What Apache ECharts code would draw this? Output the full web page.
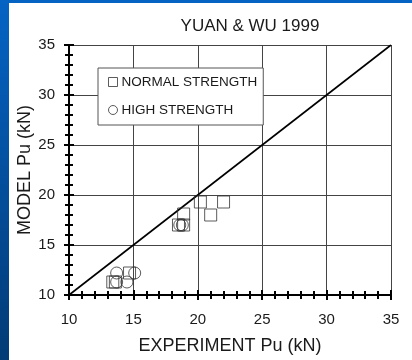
<!DOCTYPE html>
<html>
<head>
<meta charset="utf-8">
<script src="https://cdn.jsdelivr.net/npm/echarts@6/dist/echarts.min.js"></script>
<style>
  html, body { margin: 0; padding: 0; background: #fff; }
  #chart { width: 412px; height: 360px; }
</style>
</head>
<body>
<div id="chart"></div>
<script>
// Beam capacity comparison: model prediction vs. test result
const chartTitle = 'YUAN & WU 1999';
const seriesNames = ['NORMAL STRENGTH', 'HIGH STRENGTH'];
const axisTicks = [10, 15, 20, 25, 30, 35];

// [experiment Pu, model Pu] in kN
const normalStrength = [
  [20.2, 19.3], [22.0, 19.3], [21.0, 18.0], [18.9, 18.1],
  [18.5, 17.0], [18.9, 17.0],
  [13.4, 11.3], [13.6, 11.3], [14.7, 12.2]
];
const highStrength = [
  [18.6, 17.0], [18.8, 17.0],
  [13.7, 12.2], [15.1, 12.2],
  [13.7, 11.3], [14.5, 11.3]
];
const equalityLine = [[10, 10], [35, 35]];

const font = 'Liberation Sans, Arial, sans-serif';
const ink = '#1a1a1a';
const axisMin = axisTicks[0];
const axisMax = axisTicks[axisTicks.length - 1];
const step = axisTicks[1] - axisTicks[0];

function mainAxis(name, isX) {
  return {
    type: 'value', min: axisMin, max: axisMax, interval: step,
    name: name, nameLocation: 'middle',
    nameGap: isX ? 42 : 35,
    nameMoveOverlap: false,
    nameTextStyle: { fontFamily: font, fontSize: 18, color: ink },
    axisLine: { onZero: false, lineStyle: { color: '#000', width: 2 } },
    axisTick: { show: true, inside: false, length: 5, lineStyle: { color: '#000', width: 2 } },
    minorTick: { show: true, splitNumber: 5, length: 4, lineStyle: { color: '#000', width: 2 } },
    axisLabel: { fontFamily: font, fontSize: 15, color: ink, margin: isX ? 17 : 14 },
    splitLine: { show: true, lineStyle: { color: '#444', width: 1 } }
  };
}
function innerTicks(isX) {
  return {
    type: 'value', min: axisMin, max: axisMax, interval: step,
    position: isX ? 'bottom' : 'left', offset: 0,
    axisLine: { show: false, onZero: false },
    axisTick: { show: true, inside: true, length: 5, lineStyle: { color: '#000', width: 2 } },
    minorTick: { show: true, splitNumber: 5, length: 4, lineStyle: { color: '#000', width: 2 } },
    axisLabel: { show: false },
    splitLine: { show: false }
  };
}

const chart = echarts.init(document.getElementById('chart'), null, { renderer: 'canvas' });
chart.setOption({
  animation: false,
  backgroundColor: '#fff',
  title: {
    text: chartTitle, left: 245, top: 13, textAlign: 'center',
    textStyle: { fontFamily: font, fontSize: 17, fontWeight: 'normal', color: ink }
  },
  grid: { left: 69, right: 21, top: 45, bottom: 64 },
  xAxis: [
    Object.assign(mainAxis('EXPERIMENT Pu (kN)', true), { position: 'bottom' }),
    innerTicks(true)
  ],
  yAxis: [
    Object.assign(mainAxis('MODEL Pu (kN)', false), { position: 'left' }),
    innerTicks(false)
  ],
  legend: {
    data: seriesNames,
    orient: 'vertical',
    left: 98, top: 68,
    padding: [7, 6, 8, 10],
    itemGap: 14,
    itemWidth: 9, itemHeight: 9,
    itemStyle: { borderWidth: 1 },
    backgroundColor: '#fff',
    borderColor: '#555', borderWidth: 1,
    textStyle: { fontFamily: font, fontSize: 13.5, color: ink, padding: [0, 0, 0, -1] }
  },
  graphic: [
    {
      type: 'rect', left: 0, top: 0, z: 100,
      shape: { width: 9, height: 360 },
      style: { fill: new echarts.graphic.LinearGradient(0, 0, 0, 1, [
        { offset: 0, color: '#0563c4' }, { offset: 1, color: '#023b76' }
      ]) }
    },
    {
      type: 'rect', left: 0, top: 0, z: 100,
      shape: { width: 412, height: 3 },
      style: { fill: '#0563c4' }
    }
  ],
  series: [
    {
      name: 'line', type: 'line', data: equalityLine,
      showSymbol: false, symbol: 'none', silent: true,
      lineStyle: { color: '#000', width: 1.6 }, z: 3
    },
    {
      name: seriesNames[0], type: 'scatter', data: normalStrength,
      symbol: 'rect', symbolSize: 12,
      itemStyle: { color: 'transparent', borderColor: '#333', borderWidth: 1 }, z: 4
    },
    {
      name: seriesNames[1], type: 'scatter', data: highStrength,
      symbol: 'circle', symbolSize: 12,
      itemStyle: { color: 'transparent', borderColor: '#333', borderWidth: 1 }, z: 4
    }
  ]
});
</script>
</body>
</html>
